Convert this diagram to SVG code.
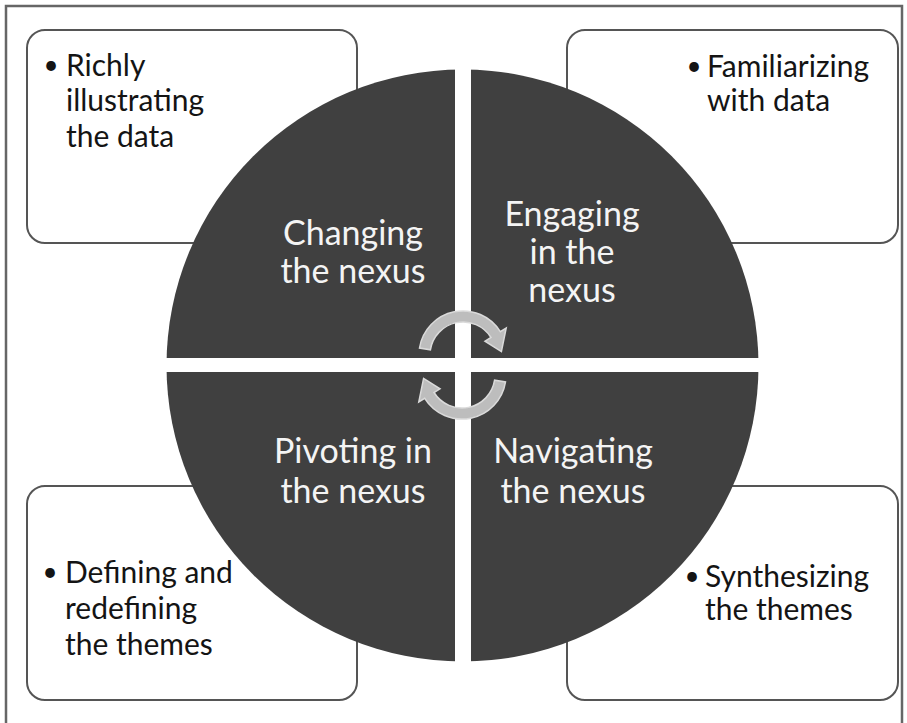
<svg xmlns="http://www.w3.org/2000/svg" width="907" height="723" viewBox="0 0 907 723">
<style>
.frame{fill:#ffffff;stroke:#666666;stroke-width:2.5}
.box{fill:#ffffff;stroke:#555555;stroke-width:2}
.quad{fill:#404040}
.btxt{font-family:Lato,"Liberation Sans",sans-serif;font-size:30px;fill:#141414}
.bul{font-family:Lato,"Liberation Sans",sans-serif;font-size:26px;fill:#141414;text-anchor:middle}
.ctxt{font-family:Lato,"Liberation Sans",sans-serif;font-size:34px;fill:#f4f4f4;text-anchor:middle}
.arrow{fill:#bdbdbd;stroke:#dadada;stroke-width:1.5}
</style>
<defs>
<clipPath id="circ"><circle cx="462.5" cy="365.5" r="296"/></clipPath>
</defs>
<rect class="frame" x="6" y="6" width="896" height="730"/>
<g id="box-tl">
<rect class="box" x="27" y="30" width="330" height="213" rx="18"/>
<text class="bul" x="51" y="74">•</text>
<text class="btxt"><tspan x="66" y="76">Richly</tspan><tspan x="66" y="111">illustrating</tspan><tspan x="66" y="147">the data</tspan></text>
</g>
<g id="box-tr">
<rect class="box" x="567" y="30" width="331" height="213" rx="18"/>
<text class="bul" x="694" y="75">•</text>
<text class="btxt"><tspan x="707" y="77">Familiarizing</tspan><tspan x="707" y="111">with data</tspan></text>
</g>
<g id="box-bl">
<rect class="box" x="27" y="486" width="330" height="214" rx="18"/>
<text class="bul" x="50" y="581">•</text>
<text class="btxt"><tspan x="65" y="583">Defining and</tspan><tspan x="65" y="619">redefining</tspan><tspan x="65" y="655">the themes</tspan></text>
</g>
<g id="box-br">
<rect class="box" x="567" y="486" width="331" height="214" rx="18"/>
<text class="bul" x="692" y="585">•</text>
<text class="btxt"><tspan x="705" y="587">Synthesizing</tspan><tspan x="705" y="620">the themes</tspan></text>
</g>
<g id="quad-changing">
<rect class="quad" x="160" y="60" width="295" height="298" clip-path="url(#circ)"/>
<text class="ctxt"><tspan x="353" y="245">Changing</tspan><tspan x="353" y="283">the nexus</tspan></text>
</g>
<g id="quad-engaging">
<rect class="quad" x="471" y="60" width="300" height="298" clip-path="url(#circ)"/>
<text class="ctxt"><tspan x="572" y="226">Engaging</tspan><tspan x="572" y="264">in the</tspan><tspan x="572" y="302">nexus</tspan></text>
</g>
<g id="quad-pivoting">
<rect class="quad" x="160" y="372" width="295" height="300" clip-path="url(#circ)"/>
<text class="ctxt"><tspan x="353" y="463">Pivoting in</tspan><tspan x="353" y="503">the nexus</tspan></text>
</g>
<g id="quad-navigating">
<rect class="quad" x="471" y="372" width="300" height="300" clip-path="url(#circ)"/>
<text class="ctxt"><tspan x="573" y="463">Navigating</tspan><tspan x="573" y="503">the nexus</tspan></text>
</g>
<g id="connectors">
<path class="arrow" d="M419.5,348.1 A44,44 0 0 1 500.3,331.7 L506.2,328 L501.4,351.6 L485,341.2 L491,337.5 A33,33 0 0 0 430.4,349.8 Z"/>
<path class="arrow" transform="rotate(180 462.5 365)" d="M419.5,348.1 A44,44 0 0 1 500.3,331.7 L506.2,328 L501.4,351.6 L485,341.2 L491,337.5 A33,33 0 0 0 430.4,349.8 Z"/>
</g>
</svg>
